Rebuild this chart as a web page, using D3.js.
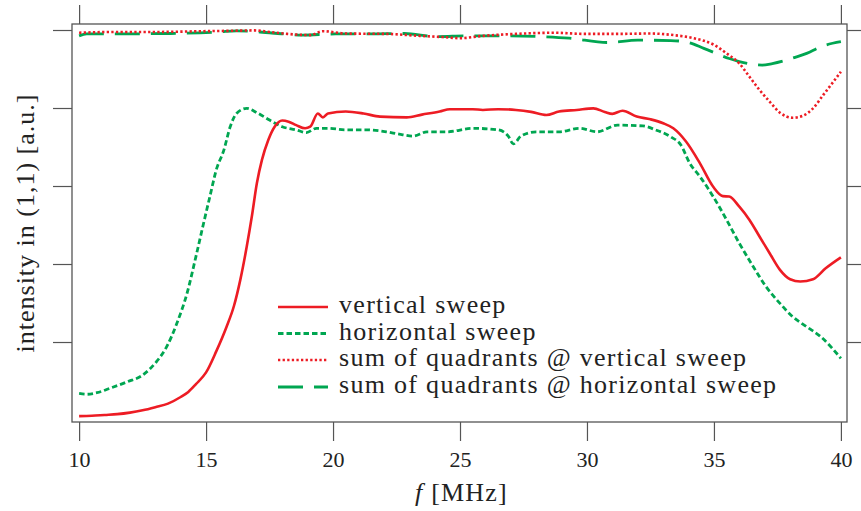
<!DOCTYPE html>
<html>
<head>
<meta charset="utf-8">
<script src="https://cdn.jsdelivr.net/npm/d3@7"></script>
<style>
  body { margin: 0; background: #fff; }
  svg { display: block; }
  text { font-family: "Liberation Serif", "DejaVu Serif", serif; fill: #222; }
</style>
</head>
<body>
<div id="vis"></div>
<script>
// intensity in (1,1) vs drive frequency

const X_TICKS = [10, 15, 20, 25, 30, 35, 40];
const Y_TICKS = [0.2, 0.4, 0.6, 0.8, 1.0];

// [f in MHz, intensity a.u.]
const verticalSweep = [
  [10.0,0.010],[10.5,0.011],[11.0,0.013],[11.5,0.015],[12.0,0.019],[12.5,0.025],[13.0,0.033],
  [13.5,0.042],[14.0,0.059],[14.3,0.072],[14.6,0.092],[15.0,0.122],[15.4,0.176],[15.8,0.238],
  [16.1,0.293],[16.35,0.360],[16.6,0.444],[16.8,0.521],[17.0,0.607],[17.2,0.667],[17.45,0.718],
  [17.7,0.752],[18.0,0.768],[18.25,0.765],[18.55,0.756],[18.9,0.748],[19.1,0.752],[19.4,0.786],
  [19.6,0.776],[19.8,0.786],[20.5,0.791],[21.2,0.786],[21.85,0.778],[22.9,0.776],[23.5,0.783],
  [24.2,0.791],[24.6,0.797],[25.5,0.797],[25.9,0.795],[26.5,0.797],[27.2,0.795],[27.8,0.790],
  [28.4,0.782],[28.9,0.791],[29.6,0.795],[30.25,0.799],[30.7,0.790],[31.0,0.785],[31.4,0.793],
  [31.96,0.778],[32.5,0.771],[33.0,0.761],[33.4,0.748],[33.9,0.714],[34.45,0.658],[34.97,0.598],
  [35.35,0.574],[35.6,0.573],[36.0,0.547],[36.4,0.513],[36.8,0.470],[37.2,0.427],[37.6,0.385],
  [38.0,0.361],[38.4,0.355],[38.9,0.361],[39.4,0.389],[40.0,0.417]
];

const horizontalSweep = [
  [10.0,0.068],[10.3,0.066],[10.7,0.070],[11.2,0.081],[11.9,0.098],[12.5,0.115],[13.05,0.150],
  [13.45,0.188],[13.85,0.248],[14.25,0.325],[14.6,0.419],[14.9,0.504],[15.15,0.573],[15.4,0.641],
  [15.7,0.692],[15.95,0.752],[16.2,0.786],[16.6,0.799],[17.0,0.788],[17.5,0.769],[18.0,0.752],
  [18.55,0.744],[18.95,0.737],[19.35,0.748],[19.8,0.748],[20.5,0.744],[21.3,0.744],[22.1,0.739],
  [22.6,0.733],[23.15,0.728],[23.7,0.739],[24.5,0.739],[25.5,0.748],[26.5,0.744],[26.9,0.728],
  [27.1,0.708],[27.4,0.728],[28.0,0.739],[28.9,0.739],[29.7,0.748],[30.4,0.739],[31.2,0.756],
  [32.2,0.754],[32.7,0.744],[33.3,0.726],[33.7,0.705],[34.05,0.658],[34.45,0.624],[34.97,0.573],
  [35.5,0.513],[36.0,0.453],[36.55,0.393],[37.05,0.342],[37.6,0.299],[38.1,0.265],[38.65,0.239],
  [39.2,0.214],[40.0,0.158]
];

const sumVertical = [
  [10.0,0.993],[11.5,0.995],[13.0,0.995],[14.9,0.997],[16.0,0.998],[16.9,0.999],[17.5,0.995],
  [18.2,0.990],[19.1,0.987],[19.6,0.997],[20.5,0.991],[22.1,0.990],[23.4,0.985],[24.3,0.982],
  [25.0,0.979],[25.9,0.985],[27.2,0.990],[28.7,0.993],[29.9,0.990],[31.2,0.990],[32.5,0.991],
  [33.4,0.987],[34.2,0.979],[35.0,0.962],[35.5,0.940],[36.0,0.914],[36.4,0.880],[36.8,0.846],
  [37.2,0.816],[37.6,0.788],[38.1,0.775],[38.5,0.780],[38.9,0.799],[39.3,0.833],[39.7,0.867],
  [40.0,0.893]
];

const sumHorizontal = [
  [10.0,0.985],[10.3,0.990],[11.0,0.990],[13.6,0.991],[15.5,0.995],[16.2,0.998],[17.5,0.993],
  [18.8,0.987],[20.1,0.990],[21.5,0.990],[22.8,0.991],[24.1,0.983],[25.3,0.985],[26.8,0.985],
  [28.2,0.983],[29.3,0.979],[30.8,0.968],[32.0,0.974],[33.3,0.973],[34.0,0.968],[34.6,0.953],
  [35.6,0.927],[36.0,0.919],[36.5,0.912],[36.9,0.910],[37.3,0.914],[38.2,0.930],[38.65,0.940],
  [39.2,0.957],[40.0,0.970]
];

const RED = "#ed1c24";
const GREEN = "#00a651";

const SERIES = [
  { label: "vertical sweep",                      data: verticalSweep,   color: RED,   dash: null,      w: 2.6 },
  { label: "horizontal sweep",                    data: horizontalSweep, color: GREEN, dash: "5.5,3",   w: 2.8 },
  { label: "sum of quadrants @ vertical sweep",   data: sumVertical,     color: RED,   dash: "2.3,2.3", w: 2.6 },
  { label: "sum of quadrants @ horizontal sweep", data: sumHorizontal,   color: GREEN, dash: "25,11",   w: 2.8 },
];

const W = 861, H = 511;
const box = { left: 72, right: 847, top: 24, bottom: 422 };

const x = d3.scaleLinear().domain([9.72, 40.24]).range([box.left, box.right]);
const y = d3.scaleLinear().domain([-0.0051, 1.0154]).range([box.bottom, box.top]);

const svg = d3.select("#vis").append("svg")
  .attr("width", W).attr("height", H);

svg.append("clipPath").attr("id", "clip")
  .append("rect")
  .attr("x", box.left).attr("y", box.top)
  .attr("width", box.right - box.left).attr("height", box.bottom - box.top);

// ── Axes (ticks outside on all four sides) ──────────────────────────────────
const TICK = 19, AXIS_COL = "#555";

const styleAxis = ax => {
  ax.select(".domain").remove();
  ax.selectAll(".tick line").attr("stroke", AXIS_COL).attr("stroke-width", 1.2);
};

svg.append("g")
  .attr("transform", `translate(0,${box.bottom})`)
  .call(d3.axisBottom(x).tickValues(X_TICKS).tickSize(TICK).tickFormat(d3.format("d")))
  .call(styleAxis)
  .selectAll("text")
    .attr("y", 0).attr("dy", 0)
    .attr("transform", "translate(0,45)")
    .style("font-family", "'Liberation Serif', 'DejaVu Serif', serif")
    .style("font-size", "22px")
    .style("fill", "#222");

svg.append("g")
  .attr("transform", `translate(0,${box.top})`)
  .call(d3.axisTop(x).tickValues(X_TICKS).tickSize(TICK).tickFormat(""))
  .call(styleAxis);

svg.append("g")
  .attr("transform", `translate(${box.left},0)`)
  .call(d3.axisLeft(y).tickValues(Y_TICKS).tickSize(TICK).tickFormat(""))
  .call(styleAxis);

svg.append("g")
  .attr("transform", `translate(${box.right},0)`)
  .call(d3.axisRight(y).tickValues(Y_TICKS).tickSize(TICK).tickFormat(""))
  .call(styleAxis);

svg.append("rect")
  .attr("x", box.left).attr("y", box.top)
  .attr("width", box.right - box.left).attr("height", box.bottom - box.top)
  .attr("fill", "none").attr("stroke", AXIS_COL).attr("stroke-width", 1.3);

// ── Axis labels ─────────────────────────────────────────────────────────────
const xl = svg.append("text")
  .attr("x", (box.left + box.right) / 2 + 2)
  .attr("y", 501)
  .attr("text-anchor", "middle")
  .style("font-size", "26px")
  .style("letter-spacing", "1.2px");
xl.append("tspan").style("font-style", "italic").text("f");
xl.append("tspan").text(" [MHz]");

svg.append("text")
  .attr("transform", `translate(34,${(box.top + box.bottom) / 2}) rotate(-90)`)
  .attr("text-anchor", "middle")
  .style("font-size", "26px")
  .style("letter-spacing", "1px")
  .text("intensity in (1,1) [a.u.]");

// ── Curves ──────────────────────────────────────────────────────────────────
const line = d3.line()
  .x(d => x(d[0]))
  .y(d => y(d[1]))
  .curve(d3.curveMonotoneX);

const curves = svg.append("g").attr("clip-path", "url(#clip)");

// sums first, sweeps on top
[3, 2, 1, 0].forEach(i => {
  const s = SERIES[i];
  curves.append("path")
    .datum(s.data)
    .attr("d", line)
    .attr("fill", "none")
    .attr("stroke", s.color)
    .attr("stroke-width", s.w)
    .attr("stroke-dasharray", s.dash)
    .attr("stroke-linejoin", "round");
});

// ── Legend ──────────────────────────────────────────────────────────────────
const legend = svg.append("g");
const LEG_Y = [307, 333.5, 360, 387];

SERIES.forEach((s, i) => {
  const ly = LEG_Y[i];
  legend.append("line")
    .attr("x1", 278).attr("x2", 328)
    .attr("y1", ly).attr("y2", ly)
    .attr("stroke", s.color)
    .attr("stroke-width", s.w)
    .attr("stroke-dasharray", s.dash);
  legend.append("text")
    .attr("x", 339).attr("y", ly + 6)
    .style("font-size", "26px")
    .style("letter-spacing", "1.3px")
    .text(s.label);
});
</script>
</body>
</html>
